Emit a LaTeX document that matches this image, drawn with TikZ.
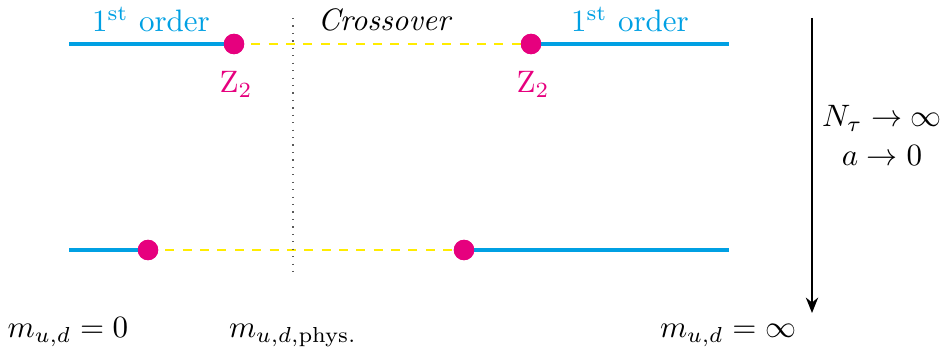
\documentclass[tikz,border=0pt]{standalone}
\usetikzlibrary{arrows.meta}
\definecolor{ordblue}{RGB}{0,160,227}
\definecolor{critmag}{RGB}{230,0,126}
\definecolor{crossyel}{RGB}{255,236,0}
\begin{document}
\begin{tikzpicture}[x=0.01134cm,y=-0.01134cm,
  firstord/.style={draw=ordblue,line width=1.3pt},
  crossline/.style={draw=crossyel,line width=0.9pt,dash pattern=on 2.9pt off 2.7pt},
  zdot/.style={circle,fill=critmag,inner sep=0pt,minimum size=6.6pt},
  lbl/.style={inner sep=0pt,anchor=base}]
\useasboundingbox (0,0) rectangle (940,347);
% top row
\coordinate (tl) at (69,44);
\coordinate (tr) at (729,44);
\node[zdot] (t1) at (234,44) {};
\node[zdot] (t2) at (531,44) {};
\draw[crossline] (t1.center) -- (t2.center);
\draw[firstord] (tl) -- (t1.center);
\draw[firstord] (t2.center) -- (tr);
\node[zdot] (t1) at (234,44) {};
\node[zdot] (t2) at (531,44) {};
% bottom row
\coordinate (bl) at (69,250);
\coordinate (br) at (729,250);
\node[zdot] (b1) at (148,250) {};
\node[zdot] (b2) at (464,250) {};
\draw[crossline] (b1.center) -- (b2.center);
\draw[firstord] (bl) -- (b1.center);
\draw[firstord] (b2.center) -- (br);
\node[zdot] (b1) at (148,250) {};
\node[zdot] (b2) at (464,250) {};
% physical mass dotted line
\coordinate (vt) at (293,18);
\coordinate (vb) at (293,278);
\draw[dotted,gray!70!black,line width=0.4pt] (vt) -- (vb);
% labels
\node[lbl,text=ordblue] (fo1) at (151,32) {1\textsuperscript{st} order};
\node[lbl,text=ordblue] (fo2) at (630,32) {1\textsuperscript{st} order};
\node[lbl] (co) at (385,31) {\textit{Crossover}};
\node[lbl,text=critmag] (z1) at (236,93) {$\mathrm{Z}_2$};
\node[lbl,text=critmag] (z2) at (533,93) {$\mathrm{Z}_2$};
% arrow
\coordinate (at) at (812,18);
\coordinate (ab) at (812,313);
\draw[-{Stealth[length=5pt,width=4pt]},line width=0.45pt] (at) -- (ab);
\node[lbl] (nt) at (882,127) {$N_\tau\to\infty$};
\node[lbl] (a0) at (882,166) {$a\to 0$};
% mass labels
\node[lbl] (m0) at (68,338) {$m_{u,d}=0$};
\node[lbl] (mp) at (293,338) {$m_{u,d,\mathrm{phys.}}$};
\node[lbl] (mi) at (728,338) {$m_{u,d}=\infty$};
\end{tikzpicture}
\end{document}
